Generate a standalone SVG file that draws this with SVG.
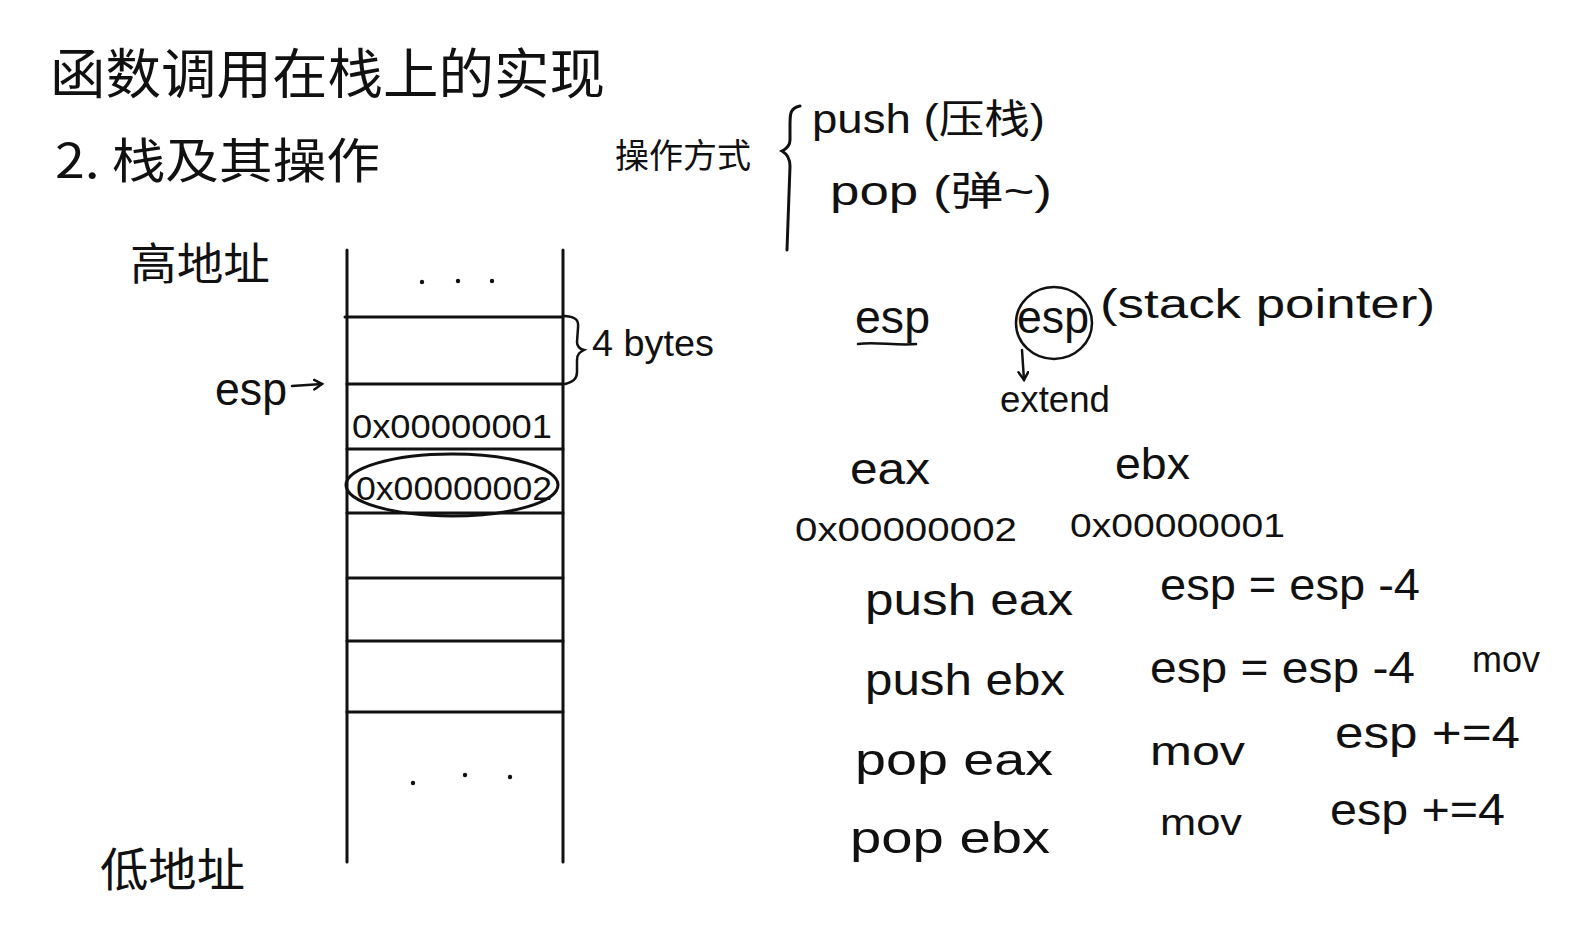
<svg xmlns="http://www.w3.org/2000/svg" width="1575" height="936" viewBox="0 0 1575 936">
<style>
.t{font-family:"Liberation Sans","Noto Sans CJK SC",sans-serif;fill:#111}
.c{font-family:"Noto Sans CJK SC","Liberation Sans",sans-serif;fill:#111}
.ln{stroke:#111;stroke-width:3;fill:none;stroke-linecap:round}
.th{stroke:#111;stroke-width:2.5;fill:none;stroke-linecap:round}
</style>
<defs>
<marker id="ah" markerWidth="12" markerHeight="12" refX="9" refY="6" orient="auto" markerUnits="userSpaceOnUse">
<path d="M1,1 L9,6 L1,11" fill="none" stroke="#111" stroke-width="2.5" stroke-linecap="round"/>
</marker>
</defs>
<rect width="1575" height="936" fill="#fff"/>

<g id="title">
<text class="c" x="50" y="94" font-size="54" textLength="555" lengthAdjust="spacingAndGlyphs">函数调用在栈上的实现</text>
</g>
<g id="subtitle">
<text class="c" x="55" y="178" font-size="48" textLength="325" lengthAdjust="spacingAndGlyphs">2. 栈及其操作</text>
</g>

<g id="ops">
<text class="c" x="615" y="168" font-size="34" textLength="136" lengthAdjust="spacingAndGlyphs">操作方式</text>
<path class="ln" d="M800,106 C790,108 790,114 790,125 L790,140 C790,146 786,149 782,151 C787,154 790,158 790,166 L787,250"/>
<text class="t" x="812" y="133" font-size="40" textLength="233" lengthAdjust="spacingAndGlyphs">push (压栈)</text>
<text class="t" x="830" y="205" font-size="40" textLength="222" lengthAdjust="spacingAndGlyphs">pop (弹~)</text>
</g>

<g id="high-addr">
<text class="c" x="130" y="280" font-size="44" textLength="140" lengthAdjust="spacingAndGlyphs">高地址</text>
</g>
<g id="low-addr">
<text class="c" x="100" y="886" font-size="46" textLength="145" lengthAdjust="spacingAndGlyphs">低地址</text>
</g>

<g id="stack">
<line class="ln" x1="347" y1="250" x2="347" y2="862"/>
<line class="ln" x1="563" y1="250" x2="563" y2="862"/>
<line class="ln" x1="345" y1="317" x2="563" y2="317"/>
<line class="ln" x1="347" y1="384" x2="563" y2="384"/>
<line class="ln" x1="347" y1="449" x2="563" y2="449"/>
<line class="ln" x1="347" y1="513" x2="563" y2="513"/>
<line class="ln" x1="347" y1="578" x2="563" y2="578"/>
<line class="ln" x1="347" y1="641" x2="563" y2="641"/>
<line class="ln" x1="347" y1="712" x2="563" y2="712"/>
<g fill="#111">
<circle cx="422" cy="282" r="2.2"/><circle cx="458" cy="281" r="2.2"/><circle cx="492" cy="281" r="2.2"/>
<circle cx="413" cy="783" r="2.2"/><circle cx="465" cy="775" r="2.2"/><circle cx="510" cy="777" r="2.2"/>
</g>
<text class="t" x="352" y="438" font-size="34" textLength="200" lengthAdjust="spacingAndGlyphs">0x00000001</text>
<text class="t" x="356" y="500" font-size="34" textLength="196" lengthAdjust="spacingAndGlyphs">0x00000002</text>
<ellipse class="ln" cx="452" cy="485" rx="106" ry="31"/>
</g>

<g id="bytes">
<path class="th" d="M565,316 C576,317 579,320 578,328 L577,342 C577,347 580,349 584,350 C580,352 577,354 577,360 L577,372 C577,379 573,382 565,384"/>
<text class="t" x="592" y="356" font-size="36" textLength="122" lengthAdjust="spacingAndGlyphs">4 bytes</text>
</g>

<g id="esp-ptr">
<text class="t" x="215" y="405" font-size="46" textLength="72" lengthAdjust="spacingAndGlyphs">esp</text>
</g>

<g id="esp-def">
<text class="t" x="855" y="333" font-size="46" textLength="75" lengthAdjust="spacingAndGlyphs">esp</text>
<path class="th" d="M858,344 C875,341 895,346 916,344"/>
<text class="t" x="1017" y="333" font-size="46" textLength="72" lengthAdjust="spacingAndGlyphs">esp</text>
<ellipse class="th" cx="1054" cy="323" rx="38" ry="36"/>
<text class="t" x="1100" y="318" font-size="40" textLength="335" lengthAdjust="spacingAndGlyphs">(stack pointer)</text>
<text class="t" x="1000" y="412" font-size="36" textLength="110" lengthAdjust="spacingAndGlyphs">extend</text>
</g>

<g id="registers">
<text class="t" x="850" y="484" font-size="44" textLength="80" lengthAdjust="spacingAndGlyphs">eax</text>
<text class="t" x="1115" y="479" font-size="44" textLength="75" lengthAdjust="spacingAndGlyphs">ebx</text>
<text class="t" x="795" y="541" font-size="34" textLength="222" lengthAdjust="spacingAndGlyphs">0x00000002</text>
<text class="t" x="1070" y="537" font-size="34" textLength="215" lengthAdjust="spacingAndGlyphs">0x00000001</text>
</g>

<g id="instructions">
<text class="t" x="865" y="615" font-size="44" textLength="208" lengthAdjust="spacingAndGlyphs">push eax</text>
<text class="t" x="1160" y="600" font-size="44" textLength="260" lengthAdjust="spacingAndGlyphs">esp = esp -4</text>
<text class="t" x="865" y="695" font-size="44" textLength="200" lengthAdjust="spacingAndGlyphs">push ebx</text>
<text class="t" x="1150" y="683" font-size="44" textLength="265" lengthAdjust="spacingAndGlyphs">esp = esp -4</text>
<text class="t" x="1472" y="672" font-size="36" textLength="68" lengthAdjust="spacingAndGlyphs">mov</text>
<text class="t" x="855" y="775" font-size="44" textLength="198" lengthAdjust="spacingAndGlyphs">pop eax</text>
<text class="t" x="1150" y="765" font-size="40" textLength="95" lengthAdjust="spacingAndGlyphs">mov</text>
<text class="t" x="1335" y="748" font-size="44" textLength="185" lengthAdjust="spacingAndGlyphs">esp +=4</text>
<text class="t" x="850" y="853" font-size="44" textLength="200" lengthAdjust="spacingAndGlyphs">pop ebx</text>
<text class="t" x="1160" y="835" font-size="36" textLength="82" lengthAdjust="spacingAndGlyphs">mov</text>
<text class="t" x="1330" y="825" font-size="44" textLength="175" lengthAdjust="spacingAndGlyphs">esp +=4</text>
</g>

<g id="connectors">
<line class="th" x1="292" y1="386" x2="322" y2="384" marker-end="url(#ah)"/>
<line class="th" x1="1022" y1="350" x2="1024" y2="380" marker-end="url(#ah)"/>
</g>
</svg>
